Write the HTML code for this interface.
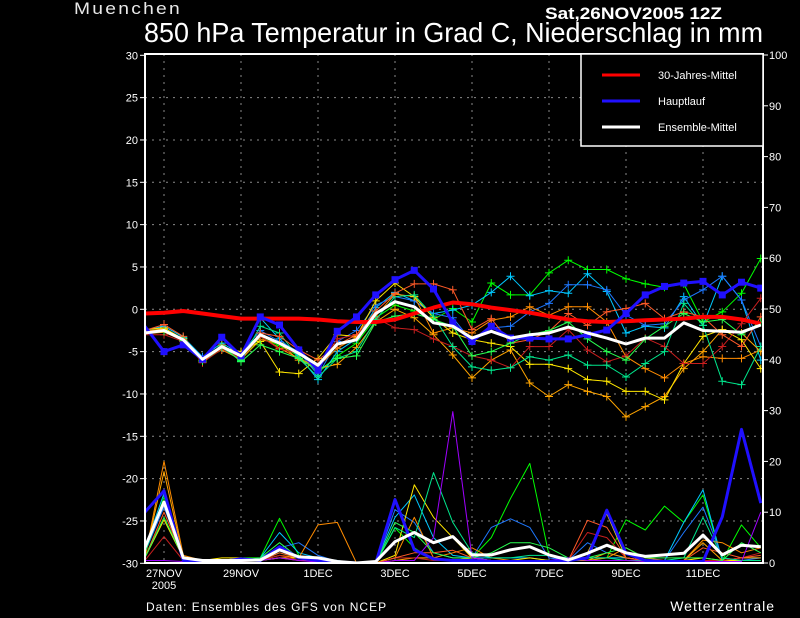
<!DOCTYPE html>
<html><head><meta charset="utf-8">
<style>
html,body{margin:0;padding:0;background:#000;}
svg{display:block;font-family:"Liberation Sans Narrow","Liberation Sans",sans-serif;}
</style></head>
<body>
<svg id="chart" width="800" height="618" viewBox="0 0 800 618" xmlns="http://www.w3.org/2000/svg">
<rect x="0" y="0" width="800" height="618" fill="#000"/>
<text x="74" y="14" fill="#e8e8e8" font-size="17" letter-spacing="2" textLength="108" lengthAdjust="spacingAndGlyphs">Muenchen</text>
<text x="545" y="19" fill="#fff" font-size="17" font-weight="bold" textLength="177" lengthAdjust="spacingAndGlyphs">Sat,26NOV2005 12Z</text>
<text x="144" y="42" fill="#fff" font-size="28" textLength="619" lengthAdjust="spacingAndGlyphs">850 hPa Temperatur in Grad C, Niederschlag in mm</text>
<g id="grid"></g>
<g id="ticks"></g>
<defs><clipPath id="plotclip"><rect x="145" y="54" width="618" height="509"/></clipPath></defs>
<g id="series" clip-path="url(#plotclip)"></g>
<rect x="145" y="54" width="618" height="509" fill="none" stroke="#fff" stroke-width="2"/>
<g>
<rect x="581" y="54" width="182" height="92" fill="#000" stroke="#fff" stroke-width="1.5"/>
<line x1="602" y1="75" x2="640" y2="75" stroke="#ff0000" stroke-width="3"/>
<text x="658" y="79" fill="#fff" font-size="11">30-Jahres-Mittel</text>
<line x1="602" y1="101" x2="640" y2="101" stroke="#2010ff" stroke-width="3"/>
<text x="658" y="105" fill="#fff" font-size="11">Hauptlauf</text>
<line x1="602" y1="127" x2="640" y2="127" stroke="#fff" stroke-width="3"/>
<text x="658" y="131" fill="#fff" font-size="11">Ensemble-Mittel</text>
</g>
<text x="146" y="611" fill="#fff" font-size="12" letter-spacing="1">Daten: Ensembles des GFS von NCEP</text>
<text x="775" y="611" fill="#fff" font-size="14" text-anchor="end" letter-spacing="1">Wetterzentrale</text>
</svg>
<script>
const dateLabels = ["27NOV","29NOV","1DEC","3DEC","5DEC","7DEC","9DEC","11DEC"];
const tempTicks = [30,25,20,15,10,5,0,-5,-10,-15,-20,-25,-30];
const precipTicks = [0,10,20,30,40,50,60,70,80,90,100];
const climTemp = [-0.5,-0.4,-0.2,-0.5,-0.8,-1.1,-1.1,-1.1,-1.1,-1.2,-1.4,-1.5,-1.5,-1.2,-0.5,0.2,0.8,0.6,0.2,-0.1,-0.4,-0.8,-1.2,-1.4,-1.5,-1.4,-1.3,-1.2,-1.1,-0.9,-0.9,-1.2,-1.7];
const mainTemp = [-2.0,-5.0,-4.2,-5.9,-3.3,-5.5,-0.9,-1.85,-4.8,-7.2,-2.6,-0.9,1.7,3.5,4.6,2.4,-1.6,-3.8,-2.0,-3.4,-3.4,-3.5,-3.5,-3.0,-2.45,-0.5,1.7,2.7,3.1,3.3,1.7,3.2,2.5];
const meanTemp = [-2.8,-2.5,-3.6,-5.9,-4.4,-5.5,-3.0,-4.0,-5.2,-6.6,-4.1,-3.6,-0.5,0.9,0.3,-1.6,-2.0,-3.4,-2.6,-3.4,-3.0,-2.8,-2.1,-2.8,-3.4,-4.1,-3.4,-3.4,-1.6,-2.5,-2.6,-2.7,-1.85];
const mainPrecip = [10,14.2,0.5,0.3,0.3,0.8,0.5,3.2,1.0,0.5,0.2,0,0,12.5,2.6,0.8,0.5,0.5,0.3,0.3,0.3,0.3,0.5,1.0,10.4,1.9,0.5,0.3,0.3,0.3,9.1,26.3,11.8];
const meanPrecip = [3,12,1,0.5,0.5,0.5,0.6,2.6,1.2,1.0,0.3,0,0.3,4.2,6.0,4.0,5.2,1.6,1.6,2.6,3.2,1.6,0.6,1.9,3.5,2.0,1.3,1.6,1.9,5.5,1.6,3.5,3.2];
const memberColors = ["#00ff00","#00c8ff","#1e78ff","#ff8c00","#ffa500","#ffe600","#c81e1e","#00e68c","#ff5a28","#28ff50","#a000ff"];
const memTempG = [-2.6,-2.3,-3.5,-5.8,-4.6,-6.0,-3.3,-4.3,-5.5,-7.5,-5.5,-4.0,-1.0,0.5,-0.2,-1.2,0.1,-1.5,3.1,1.7,1.7,4.3,5.8,4.7,4.7,3.6,3.0,2.6,3.0,-1.5,-0.3,1.9,6.0];
const memTempC = [-2.5,-2.0,-3.3,-5.6,-4.0,-5.3,-1.0,-3.5,-5.5,-8.3,-5.0,-3.5,0.2,2.0,1.0,-0.5,-0.1,0.5,2.0,3.9,1.6,2.2,1.9,4.2,2.1,-2.8,-2.0,-2.2,1.5,-1.9,3.9,1.1,-6.0];
const memTempB = [-2.7,-2.4,-3.5,-5.7,-4.5,-5.2,-2.5,-3.8,-5.0,-7.8,-3.8,-2.5,0.5,1.5,1.0,-0.5,-1.0,-3.8,-2.2,-2.0,-0.3,0.7,2.9,2.9,2.3,-0.7,-1.9,-1.7,1.1,2.3,3.9,1.1,-4.4];
const memTempO = [-2.6,-2.3,-3.8,-6.2,-4.7,-5.8,-3.2,-4.6,-5.8,-6.8,-4.6,-3.3,-0.8,1.8,1.5,-2.8,-2.2,-2.8,-1.3,-0.9,0.3,-0.7,0.3,0.3,-1.5,-5.6,-7.0,-8.1,-6.4,-5.6,-5.8,-5.8,-4.8];
const memTempA = [-2.9,-2.7,-3.7,-6.0,-4.8,-5.9,-3.6,-4.0,-6.0,-7.0,-6.5,-4.5,-1.5,0.0,-1.0,-3.0,-5.4,-8.1,-6.0,-4.8,-8.7,-10.3,-8.9,-9.7,-10.3,-12.7,-11.5,-10.3,-7.0,-5.0,-2.4,-2.8,-5.0];
const memTempY = [-2.4,-2.2,-3.5,-6.0,-4.5,-5.0,-3.8,-7.4,-7.6,-5.8,-3.0,-3.2,1.0,3.1,1.5,-1.0,-2.8,-3.6,-4.0,-4.4,-6.5,-6.5,-7.0,-8.3,-8.5,-9.7,-9.7,-10.7,-6.4,-3.2,-2.4,-3.6,-7.0];
const memTempR = [-3.0,-3.0,-3.8,-6.3,-4.7,-5.8,-3.2,-4.7,-5.2,-6.8,-3.5,-3.0,-1.0,-2.2,-2.4,-3.5,-4.4,-5.5,-6.0,-6.9,-4.4,-4.4,-2.4,-4.8,-6.2,-5.5,-3.4,-4.4,-6.4,-6.4,-4.4,-1.7,1.3];
const memTempT = [-2.7,-2.5,-3.4,-6.2,-4.5,-6.1,-2.0,-2.8,-5.8,-8.0,-5.8,-5.0,-1.2,1.5,1.7,-0.8,-4.4,-6.8,-7.2,-6.9,-5.6,-6.0,-5.4,-6.6,-6.6,-8.0,-6.4,-5.0,0.7,-1.9,-8.5,-8.9,-4.4];
const memTempRR = [-2.5,-1.8,-3.2,-6.3,-4.2,-5.5,-2.8,-3.2,-4.8,-6.0,-4.2,-3.0,-0.2,1.9,3.0,3.0,2.3,-2.4,-1.1,-4.0,-3.6,-2.6,-0.5,-1.9,-0.3,0.1,0.7,-1.1,-0.3,-0.9,-3.0,-4.4,-0.9];
const memTempS = [-2.8,-2.6,-3.7,-6.1,-4.3,-6.2,-4.2,-5.0,-5.8,-7.2,-5.8,-5.5,-1.5,-0.8,-0.5,-1.2,-2.0,-5.5,-5.0,-4.0,-3.0,-2.5,-1.5,-3.5,-5.0,-6.0,-3.5,-2.0,-0.5,-1.5,-1.2,-3.0,-1.5];
const memPrecG = [2,13,1,0.5,0.5,1,1,8.8,1.5,0.5,0.2,0,0,6.9,3,0.5,0.5,1,5,12.7,19.6,1.5,0.5,0.5,1,8.5,6.5,11.2,8,13.4,0.5,7.5,3];
const memPrecC = [3,13.7,1,0.5,0.3,0.5,1,6,2,1,0.5,0,0.2,9,13.4,5,1.5,1,1,1,1,0.5,0.5,1,1,1,0.5,0.5,8,14.4,0.5,1,1];
const memPrecB = [2,11,1,0.3,0.3,0.3,1,3,4,1.5,0.3,0,0,10.5,8,2,1,1,7,8.7,7,1,0.5,4,2,1,0.5,0.5,6,11,1,0.5,1];
const memPrecO = [1,20,1.5,0.5,0.5,0.5,0.5,1.5,1,7.5,8.0,0,0,1,9,1,2,3,1,0.5,0.5,0.5,0.5,0.5,1,3,1,0.5,0.5,4.5,4,2,3];
const memPrecA = [1,18,1,0.5,0.5,1,0.5,1,0.5,0.5,0.2,0,0,0.5,1,1,0.5,1,0.5,0.5,0.5,0.5,0.5,0.5,2,1,0.5,0.3,0.5,4,0.5,1,1];
const memPrecY = [1,8.5,1,0.5,1,1,0.5,1,1,0.5,0.2,0,0,1.5,15.4,9,5,1,0.5,0.5,1,0.5,0.5,2,9.7,1,0.5,0.5,0.5,1,0.5,0.5,0.5];
const memPrecR = [0.5,5.2,0.5,0.3,0.3,0.3,0.5,1.5,0.5,0.3,0,0,0,1,1,0.5,0.5,0.5,0.5,0.5,0.5,0.5,0.5,6,5,1,0.3,0.3,0.3,0.5,0.5,1,2];
const memPrecT = [2,12,0.5,0.3,0.3,0.5,0.5,2,1,0.5,0.2,0,0,7,5,17.8,8,2,1,1,1.5,1.5,1,1,1,0.5,0.5,0.5,1,9,1,0.5,0.5];
const memPrecRR = [1,10,1,0.5,0.3,0.5,0.5,2,1,0.5,0.2,0,0,1,2,2,2.5,1,0.5,0.5,0.5,0.5,0.5,8.4,7,1,0.5,0.5,0.5,3,2,1,1.5];
const memPrecS = [1,9,1,0.5,0.5,0.5,1,4,1,0.5,0.2,0,0,8,6,2,1,1,2,4,4,3,1,1,2,3,1,1,1,1,0.5,4,2];
const memPrecP = [0.5,0.5,0.3,0.2,0.2,0.5,0.5,1,0.5,0.2,0,0,0,0.5,0.5,5,29.8,1,0.5,0.5,0.5,0.5,1,0.5,0.5,0.5,0.3,0.3,0.3,0.3,0.3,0.3,10];

const NS = "http://www.w3.org/2000/svg";
const X0 = 144.75, STEP = 19.25;
function xAt(i){ return X0 + i*STEP; }
function yTemp(t){ return 309.3 - t*(508/60); }
function yPrec(p){ return 563 - p*5.08; }
function mk(tag, attrs, parent){
  const e = document.createElementNS(NS, tag);
  for (const k in attrs) e.setAttribute(k, attrs[k]);
  parent.appendChild(e); return e;
}
const grid = document.getElementById('grid');
const ticks = document.getElementById('ticks');
const series = document.getElementById('series');

// grid
tempTicks.forEach(t => {
  if (t === 30 || t === -30) return;
  const l = mk('line', {x1:145, x2:763, y1:yTemp(t), y2:yTemp(t), stroke:'#8a8a8a', 'stroke-width':1, 'stroke-dasharray':'2,5'}, grid);
  
  
});
dateLabels.forEach((d, k) => {
  const x = xAt(1 + 4*k);
  const l = mk('line', {x1:x, x2:x, y1:54, y2:563, stroke:'#8a8a8a', 'stroke-width':1, 'stroke-dasharray':'2,5'}, grid);
  
  
  const tx = mk('text', {x:x, y:577, fill:'#fff', 'font-size':11, 'text-anchor':'middle'}, ticks);
  tx.textContent = d;
  
  
});
const yr = mk('text', {x:xAt(1), y:589, fill:'#fff', 'font-size':11, 'text-anchor':'middle'}, ticks);
yr.textContent = '2005';


tempTicks.forEach(t => {
  const y = yTemp(t);
  const tk = mk('line', {x1:140, x2:145, y1:y, y2:y, stroke:'#fff', 'stroke-width':1}, ticks);
  
  
  const tx = mk('text', {x:138, y:y+4, fill:'#fff', 'font-size':11, 'text-anchor':'end'}, ticks);
  tx.textContent = t;
  
  
});
precipTicks.forEach(p => {
  const y = yPrec(p);
  const tk = mk('line', {x1:763, x2:768, y1:y, y2:y, stroke:'#fff', 'stroke-width':1}, ticks);
  
  
  const tx = mk('text', {x:769, y:y+4, fill:'#fff', 'font-size':11}, ticks);
  tx.textContent = p;
  
  
});

function pts(arr, yf){ return arr.map((v,i)=> xAt(i).toFixed(1)+','+yf(v).toFixed(1)).join(' '); }
function line(arr, yf, color, w, name){
  const p = mk('polyline', {points:pts(arr, yf), fill:'none', stroke:color, 'stroke-width':w, 'stroke-linejoin':'round'}, series);
  
  
  return p;
}
function crosses(arr, color, name){
  const g = mk('g', {stroke:color, 'stroke-width':1}, series);
  
  
  arr.forEach((v,i)=>{
    if (i === 0) return;
    const x = xAt(i), y = yTemp(v);
    mk('path', {d:`M${x-4},${y}H${x+4}M${x},${y-4}V${y+4}`}, g);
  });
}
const memTemps = [memTempG,memTempC,memTempB,memTempO,memTempA,memTempY,memTempR,memTempT,memTempRR,memTempS];
const memPrecs = [memPrecG,memPrecC,memPrecB,memPrecO,memPrecA,memPrecY,memPrecR,memPrecT,memPrecRR,memPrecS,memPrecP];
memPrecs.forEach((arr,k)=> line(arr, yPrec, memberColors[k], 1, 'member-precip-line'));
memTemps.forEach((arr,k)=>{
  line(arr, yTemp, memberColors[k], 1, 'member-temp-line');
  crosses(arr, memberColors[k], 'member-temp-markers');
});
line(climTemp, yTemp, '#ff0000', 4, 'climate-mean-line');
line(mainPrecip, yPrec, '#2010ff', 3, 'main-run-precip-line');
line(mainTemp, yTemp, '#2010ff', 3, 'main-run-temp-line');
const sq = mk('g', {fill:'#2010ff'}, series);


mainTemp.forEach((v,i)=>{ if(i>0) mk('rect', {x:xAt(i)-3.5, y:yTemp(v)-3.5, width:7, height:7}, sq); });
line(meanPrecip, yPrec, '#ffffff', 3, 'ensemble-mean-precip-line');
line(meanTemp, yTemp, '#ffffff', 3, 'ensemble-mean-temp-line');
</script>
</body></html>
